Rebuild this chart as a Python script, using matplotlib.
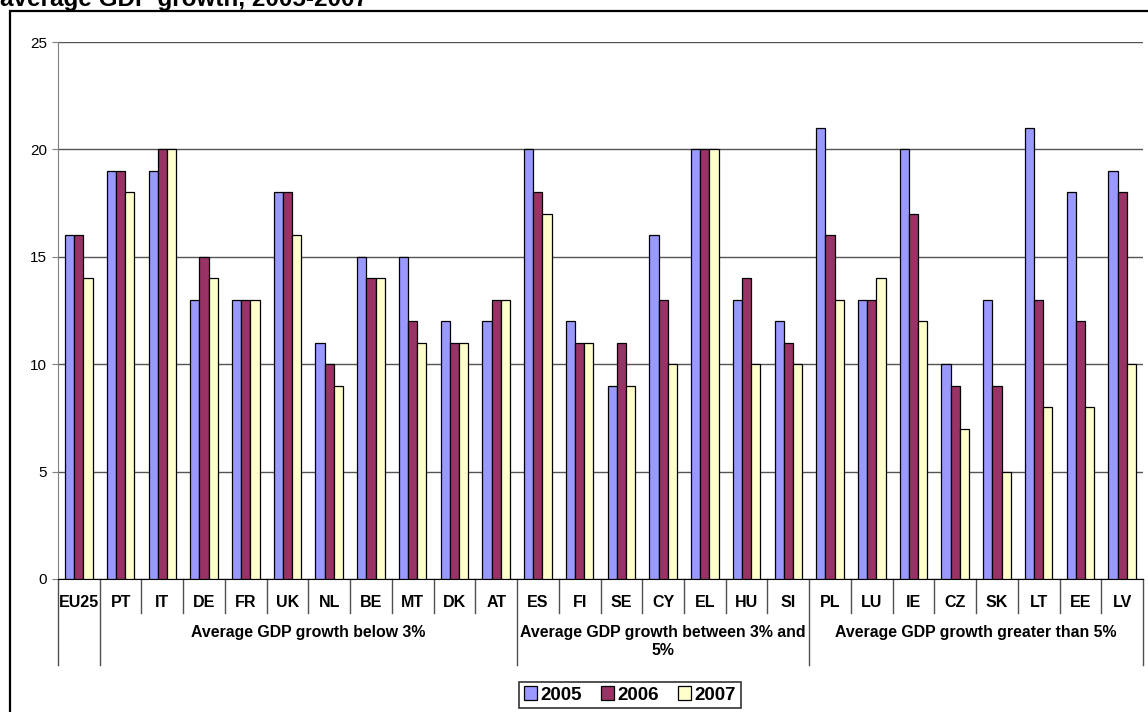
import numpy as np
import matplotlib.pyplot as plt
from matplotlib.patches import Patch, Rectangle
from matplotlib.lines import Line2D

plt.rcParams['font.family'] = ['Liberation Sans', 'DejaVu Sans']

countries = ["EU25", "PT", "IT", "DE", "FR", "UK", "NL", "BE", "MT", "DK", "AT",
             "ES", "FI", "SE", "CY", "EL", "HU", "SI",
             "PL", "LU", "IE", "CZ", "SK", "LT", "EE", "LV"]
v2005 = [16, 19, 19, 13, 13, 18, 11, 15, 15, 12, 12,
         20, 12, 9, 16, 20, 13, 12,
         21, 13, 20, 10, 13, 21, 18, 19]
v2006 = [16, 19, 20, 15, 13, 18, 10, 14, 12, 11, 13,
         18, 11, 11, 13, 20, 14, 11,
         16, 13, 17, 9, 9, 13, 12, 18]
v2007 = [14, 18, 20, 14, 13, 16, 9, 14, 11, 11, 13,
         17, 11, 9, 10, 20, 10, 10,
         13, 14, 12, 7, 5, 8, 8, 10]
group_names = ["", "Average GDP growth below 3%",
               "Average GDP growth between 3% and\n5%",
               "Average GDP growth greater than 5%"]
group_sizes = [1, 10, 7, 8]
years = ["2005", "2006", "2007"]
colors = ["#9999FF", "#993366", "#FFFFCC"]

W, H = 1148, 712
fig = plt.figure(figsize=(W / 100, H / 100), dpi=100)
ax = fig.add_axes([58 / W, 1 - 579 / H, (1143 - 58) / W, (579 - 42) / H])

x = np.arange(len(countries))
bw = 0.22
for i, (vals, c) in enumerate(zip([v2005, v2006, v2007], colors)):
    ax.bar(x + (i - 1) * bw, vals, bw, color=c, edgecolor="black", linewidth=0.9, zorder=3)

ax.set_xlim(-0.5, len(countries) - 0.5)
ax.set_ylim(0, 25)
ax.set_yticks(range(0, 26, 5))
ax.yaxis.grid(True, color="#555555", linewidth=1, zorder=0)
ax.tick_params(axis="y", direction="out", length=4, color="#808080", labelsize=11, pad=4)
ax.set_xticks([])
for s in ["top", "right"]:
    ax.spines[s].set_visible(False)
ax.spines["left"].set_color("#808080")
ax.spines["bottom"].set_color("black")

# two-level category axis: country labels, then group labels
tr = ax.get_xaxis_transform()
for xi, name in zip(x, countries):
    ax.text(xi, -0.043, name, transform=tr, ha="center", va="center",
            fontsize=11.5, fontweight="bold")
edges = np.cumsum([0] + group_sizes) - 0.5
for b in np.arange(-0.5, len(countries)):
    low = -0.160 if b in edges else -0.063
    ax.add_line(Line2D([b, b], [0, low], transform=tr, color="#505050",
                       linewidth=1, clip_on=False))
for name, lo, hi in zip(group_names, edges[:-1], edges[1:]):
    if name:
        ax.text((lo + hi) / 2, -0.085, name, transform=tr, ha="center", va="top",
                fontsize=11.4, fontweight="bold", linespacing=1.3)

handles = [Patch(facecolor=c, edgecolor="black", linewidth=0.9) for c in colors]
leg = fig.legend(handles, years, loc="center", bbox_to_anchor=(630 / W, 1 - 695 / H),
                 ncol=3, frameon=True, fancybox=False, edgecolor="black",
                 prop={"weight": "bold", "size": 13.5}, handlelength=0.7, handleheight=0.7,
                 handletextpad=0.2, columnspacing=1.0, borderpad=0.25, borderaxespad=0)
leg.get_frame().set_linewidth(1.2)

fig.add_artist(Rectangle((10 / W, -0.05), 1.0, 1 - 11 / H + 0.05, transform=fig.transFigure,
                         fill=False, edgecolor="black", linewidth=1.6))
fig.text(0, 1 - 6 / H, "average GDP growth, 2005-2007", ha="left", va="baseline",
         fontsize=17.5, fontweight="bold")

fig.savefig("out.png", dpi=100)
